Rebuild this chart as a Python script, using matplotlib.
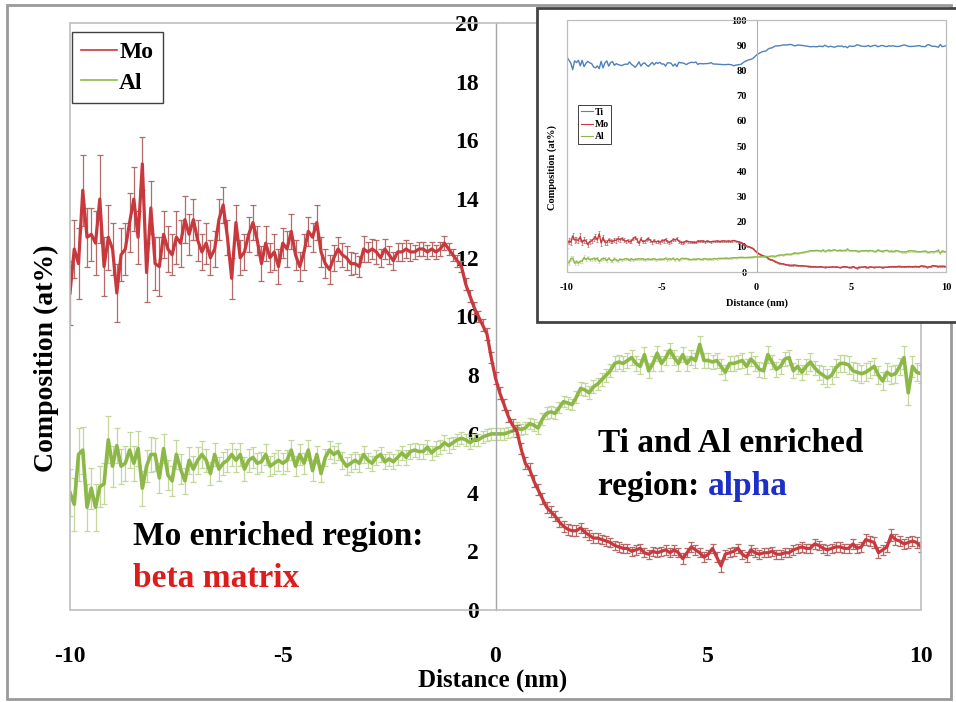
import numpy as np
import matplotlib
matplotlib.use("Agg")
import matplotlib.pyplot as plt
from matplotlib.patches import Rectangle
from matplotlib.lines import Line2D

# ---------------------------------------------------------------- data
# composition profile across the alpha/beta interface, 0.1 nm steps
distance = np.round(np.arange(-10.0, 10.0001, 0.1), 1)

mo = [10.8, 12.3, 11.8, 14.3, 12.7, 12.8, 12.5, 14.0, 11.7, 12.7,
      12.3, 10.8, 12.1, 12.3, 13.2, 14.0, 12.7, 15.2, 11.5, 13.7,
      11.8, 11.7, 12.8, 12.3, 12.1, 12.7, 12.5, 13.3, 12.8, 13.3,
      12.6, 12.2, 12.5, 12.0, 12.3, 13.3, 13.8, 12.7, 11.3, 13.2,
      12.0, 12.2, 12.8, 13.2, 12.6, 11.8, 12.5, 12.0, 12.2, 11.7,
      12.5, 12.3, 12.9, 12.1, 11.7, 12.2, 12.9, 12.7, 13.2, 12.2,
      11.8, 11.6, 12.0, 12.3, 12.1, 12.0, 11.8, 11.8, 11.7, 12.3,
      12.2, 12.3, 12.2, 12.0, 12.3, 12.1, 11.9, 12.2, 12.2, 12.3,
      12.2, 12.2, 12.3, 12.3, 12.2, 12.3, 12.2, 12.3, 12.5, 12.3,
      12.1, 11.9, 11.7, 11.1, 10.7, 10.3, 10.0, 9.7, 9.4, 8.6,
      7.9, 7.4, 7.0, 6.6, 6.3, 6.1, 5.5, 5.0, 4.8, 4.4,
      4.1, 3.8, 3.5, 3.35, 3.2, 3.0, 2.85, 2.75, 2.7, 2.7,
      2.8, 2.65, 2.55, 2.45, 2.45, 2.4, 2.35, 2.3, 2.2, 2.15,
      2.1, 2.1, 2.0, 2.05, 2.1, 1.95, 1.9, 2.0, 1.95, 2.0,
      2.05, 1.95, 2.05, 1.95, 1.75, 1.95, 2.15, 2.05, 1.95, 1.8,
      1.9, 2.1, 1.8, 1.5, 1.9, 1.95, 2.0, 2.1, 1.9, 1.8,
      2.05, 1.95, 1.9, 1.95, 1.95, 2.0, 1.9, 1.9, 1.95, 1.95,
      2.05, 2.1, 2.15, 2.1, 2.1, 2.25, 2.2, 2.1, 2.05, 2.1,
      2.15, 2.15, 2.1, 2.1, 2.25, 2.1, 2.15, 2.4, 2.35, 2.3,
      1.95, 2.05, 2.15, 2.55, 2.4, 2.35, 2.25, 2.3, 2.35, 2.3, 2.15]

al = [4.0, 3.6, 5.3, 5.45, 3.5, 4.15, 3.5, 4.2, 4.3, 5.8,
      4.9, 5.6, 4.9, 5.0, 5.45, 5.0, 5.5, 4.15, 4.9, 5.3,
      5.3, 4.5, 5.5, 4.6, 4.4, 5.3, 4.8, 4.4, 5.1, 4.8,
      5.1, 5.3, 5.1, 4.65, 5.3, 4.8, 5.0, 5.1, 5.3, 5.1,
      5.3, 4.8, 5.1, 5.2, 5.0, 5.05, 5.3, 4.9, 5.0, 5.1,
      5.0, 5.1, 5.45, 4.9, 5.3, 5.0, 5.45, 4.75, 5.3, 4.65,
      5.2, 5.45, 5.3, 5.4, 5.1, 4.9, 5.0, 5.1, 5.0, 5.3,
      5.1, 5.0, 5.2, 5.3, 5.05, 5.15, 5.05, 5.2, 5.35, 5.2,
      5.4, 5.45, 5.4, 5.4, 5.55, 5.35, 5.5, 5.55, 5.7, 5.6,
      5.7, 5.8, 5.85, 5.8, 5.7, 5.8, 5.8, 5.9, 5.95, 6.0,
      6.0, 6.0, 6.0, 6.05, 6.1, 6.2, 6.15, 6.2, 6.35, 6.3,
      6.2, 6.5, 6.7, 6.75, 6.7, 6.9, 7.1, 7.05, 7.0, 7.25,
      7.55, 7.5, 7.4, 7.6, 7.7, 7.85, 8.0, 8.15, 8.4, 8.45,
      8.4, 8.5, 8.6, 8.4, 8.3, 8.7, 8.15, 8.4, 8.75, 8.4,
      8.6, 8.85, 8.6, 8.4, 8.7, 8.4, 8.6, 8.5, 9.05, 8.5,
      8.5, 8.45, 8.5, 8.3, 8.1, 8.4, 8.4, 8.45, 8.5, 8.3,
      8.55, 8.4, 8.2, 8.15, 8.7, 8.45, 8.2, 8.3, 8.55, 8.6,
      8.15, 8.3, 8.1, 8.3, 8.45, 8.25, 8.1, 8.0, 7.9, 8.0,
      8.25, 8.4, 8.4, 8.35, 8.15, 8.1, 8.05, 8.1, 8.2, 8.3,
      8.0, 7.8, 8.1, 8.0, 8.05, 8.3, 8.6, 7.4, 8.3, 8.1, 8.05]

ti = [85.2, 84.1, 82.9, 80.3, 83.8, 83.1, 84.0, 81.8, 84.0, 81.5,
      82.8, 83.6, 83.0, 82.7, 81.4, 81.0, 81.8, 80.7, 83.6, 81.0,
      82.9, 83.8, 81.7, 83.1, 83.5, 82.0, 82.7, 82.3, 82.1, 81.9,
      82.3, 82.5, 82.4, 83.4, 82.4, 81.9, 81.2, 82.2, 83.4, 81.7,
      82.7, 83.0, 82.1, 81.6, 82.4, 83.2, 82.2, 83.1, 82.8, 83.2,
      82.5, 82.6, 81.7, 83.0, 83.0, 82.8, 81.7, 82.6, 81.5, 83.2,
      83.0, 83.0, 82.7, 82.3, 82.8, 83.1, 83.2, 83.1, 83.3, 82.4,
      82.7, 82.7, 82.6, 82.7, 82.7, 82.8, 83.1, 82.6, 82.5, 82.5,
      82.4, 82.4, 82.3, 82.3, 82.3, 82.4, 82.3, 82.2, 81.8, 82.1,
      82.2, 82.3, 82.5, 83.1, 83.6, 83.9, 84.2, 84.4, 84.7, 85.4,
      86.1, 86.6, 87.0, 87.4, 87.6, 87.7, 88.4, 88.8, 88.9, 89.3,
      89.7, 89.7, 89.8, 89.9, 90.1, 90.1, 90.1, 90.2, 90.3, 90.1,
      89.7, 89.9, 90.1, 90.0, 89.9, 89.8, 89.7, 89.6, 89.4, 89.4,
      89.5, 89.4, 89.4, 89.6, 89.6, 89.4, 90.0, 89.6, 89.3, 89.6,
      89.4, 89.2, 89.4, 89.7, 89.6, 89.7, 89.3, 89.5, 89.0, 89.7,
      89.6, 89.5, 89.7, 90.2, 90.0, 89.7, 89.6, 89.5, 89.6, 89.9,
      89.4, 89.7, 89.9, 89.9, 89.4, 89.6, 89.9, 89.8, 89.5, 89.5,
      89.8, 89.6, 89.8, 89.6, 89.5, 89.5, 89.7, 89.9, 90.1, 89.9,
      89.6, 89.5, 89.5, 89.6, 89.6, 89.8, 89.8, 89.5, 89.5, 89.4,
      90.1, 90.2, 89.8, 89.5, 89.6, 89.4, 89.2, 90.3, 89.4, 89.6, 89.8]

mo_err = [1.1, 1.0, 1.2, 1.2, 1.0, 0.9, 1.1, 1.5, 1.0, 1.1,
          0.9, 1.0, 0.9, 0.9, 1.0, 1.1, 0.9, 0.9, 1.0, 0.9,
          0.9, 1.0, 0.8, 0.8, 0.7, 0.9, 0.8, 0.8, 0.7, 0.7,
          0.7, 0.6, 0.7, 0.6, 0.6, 0.7, 0.6, 0.6, 0.7, 0.6,
          0.6, 0.6, 0.6, 0.6, 0.5, 0.6, 0.6, 0.5, 0.6, 0.6,
          0.5, 0.6, 0.6, 0.5, 0.5, 0.6, 0.5, 0.5, 0.6, 0.5,
          0.5, 0.5, 0.45, 0.4, 0.4, 0.4, 0.4, 0.35, 0.35, 0.45,
          0.35, 0.35, 0.4, 0.3, 0.35, 0.3, 0.3, 0.3, 0.3, 0.3,
          0.3, 0.25, 0.25, 0.25, 0.25, 0.25, 0.25, 0.25, 0.25, 0.2,
          0.2, 0.2, 0.2, 0.2, 0.2, 0.2, 0.2, 0.2, 0.2, 0.2,
          0.2, 0.2, 0.2, 0.2, 0.2, 0.2, 0.2, 0.2, 0.2, 0.2,
          0.18, 0.18, 0.18, 0.18, 0.18, 0.18, 0.18, 0.18, 0.18, 0.18,
          0.16, 0.16, 0.16, 0.16, 0.16, 0.16, 0.16, 0.16, 0.16, 0.16,
          0.16, 0.16, 0.16, 0.16, 0.16, 0.16, 0.16, 0.16, 0.16, 0.16,
          0.16, 0.16, 0.16, 0.16, 0.18, 0.16, 0.16, 0.16, 0.16, 0.16,
          0.16, 0.16, 0.16, 0.2, 0.16, 0.16, 0.16, 0.16, 0.16, 0.16,
          0.16, 0.16, 0.16, 0.16, 0.16, 0.16, 0.16, 0.16, 0.16, 0.16,
          0.16, 0.16, 0.16, 0.16, 0.16, 0.16, 0.16, 0.16, 0.16, 0.16,
          0.16, 0.16, 0.16, 0.16, 0.16, 0.16, 0.16, 0.18, 0.18, 0.18,
          0.18, 0.18, 0.18, 0.2, 0.18, 0.18, 0.18, 0.18, 0.18, 0.18, 0.18]

al_err = [0.8, 0.9, 0.9, 0.8, 0.8, 0.7, 0.8, 0.7, 0.7, 0.8,
          0.7, 0.6, 0.6, 0.6, 0.6, 0.6, 0.6, 0.6, 0.55, 0.6,
          0.55, 0.5, 0.5, 0.5, 0.5, 0.5, 0.5, 0.45, 0.45, 0.45,
          0.45, 0.45, 0.4, 0.4, 0.4, 0.4, 0.4, 0.4, 0.4, 0.4,
          0.4, 0.4, 0.4, 0.35, 0.35, 0.35, 0.35, 0.35, 0.35, 0.35,
          0.35, 0.35, 0.35, 0.35, 0.35, 0.35, 0.35, 0.35, 0.3, 0.3,
          0.3, 0.3, 0.3, 0.3, 0.3, 0.3, 0.3, 0.3, 0.3, 0.3,
          0.25, 0.25, 0.25, 0.25, 0.25, 0.25, 0.25, 0.25, 0.25, 0.25,
          0.25, 0.25, 0.25, 0.25, 0.25, 0.25, 0.25, 0.25, 0.25, 0.25,
          0.2, 0.2, 0.2, 0.2, 0.2, 0.2, 0.2, 0.2, 0.2, 0.2,
          0.2, 0.2, 0.2, 0.2, 0.2, 0.2, 0.2, 0.2, 0.2, 0.2,
          0.2, 0.2, 0.2, 0.2, 0.2, 0.2, 0.2, 0.2, 0.2, 0.2,
          0.22, 0.22, 0.22, 0.22, 0.22, 0.22, 0.22, 0.22, 0.25, 0.25,
          0.25, 0.25, 0.25, 0.25, 0.25, 0.25, 0.25, 0.25, 0.25, 0.25,
          0.25, 0.25, 0.25, 0.25, 0.25, 0.25, 0.25, 0.25, 0.3, 0.25,
          0.25, 0.25, 0.25, 0.25, 0.25, 0.25, 0.25, 0.25, 0.25, 0.25,
          0.25, 0.25, 0.25, 0.25, 0.3, 0.25, 0.25, 0.25, 0.25, 0.25,
          0.25, 0.25, 0.25, 0.25, 0.3, 0.25, 0.25, 0.3, 0.3, 0.3,
          0.3, 0.3, 0.3, 0.3, 0.3, 0.3, 0.3, 0.3, 0.3, 0.3,
          0.3, 0.3, 0.3, 0.3, 0.3, 0.3, 0.4, 0.4, 0.35, 0.3, 0.3]

main_yticks = [0, 2, 4, 6, 8, 10, 12, 14, 16, 18, 20]
main_xticks = [-10, -5, 0, 5, 10]
inset_yticks = [0, 10, 20, 30, 40, 50, 60, 70, 80, 90, 100]

# ---------------------------------------------------------------- style
plt.rcParams["font.family"] = ["Liberation Serif", "DejaVu Serif"]
plt.rcParams["font.weight"] = "bold"

MO_C, MO_E = "#c8383c", "#b56a6a"
AL_C, AL_E = "#8cb848", "#c2d89a"
TI_C = "#4f81bd"
FRAME = "#bdbdbd"

W, H = 956, 702
fig = plt.figure(figsize=(W / 100, H / 100), dpi=100)
fig.patch.set_facecolor("white")


def fx(px):
    return px / W


def fy(py):
    return 1 - py / H


# ---------------------------------------------------------------- main panel
ax = fig.add_axes([fx(70), fy(610), fx(921) - fx(70), fy(23) - fy(610)])
ax.set_xlim(-10, 10)
ax.set_ylim(0, 20)

ax.errorbar(distance, mo, yerr=mo_err, color=MO_C, lw=2.3, ecolor=MO_E,
            elinewidth=0.9, capsize=2.3, capthick=0.9, zorder=3)
ax.errorbar(distance, al, yerr=al_err, color=AL_C, lw=2.6, ecolor=AL_E,
            elinewidth=0.9, capsize=2.3, capthick=0.9, zorder=2)

for side in ("top", "right", "bottom"):
    ax.spines[side].set_visible(False)
ax.spines["left"].set_position(("data", 0))
ax.spines["left"].set_color("#a6a6a6")
ax.spines["left"].set_linewidth(1.0)
ax.add_patch(Rectangle((0, 0), 1, 1, transform=ax.transAxes, fill=False,
                       ec=FRAME, lw=1.2, zorder=5, clip_on=False))

ax.set_yticks(main_yticks)
ax.set_xticks(main_xticks)
ax.set_xticklabels([str(v) for v in main_xticks])
ax.tick_params(axis="y", length=0, pad=12, labelsize=17)
ax.tick_params(axis="x", length=0, pad=26, labelsize=17)
ax.set_xlabel("Distance (nm)", fontsize=18, fontweight="bold")
ax.xaxis.set_label_coords(0.497, -0.1)
fig.text(fx(46), fy(358), "Composition (at%)", rotation=90, ha="center",
         va="center", fontsize=20, fontweight="bold")

handles = [Line2D([], [], color=MO_C, lw=1.2), Line2D([], [], color=AL_C, lw=1.2)]
leg = ax.legend(handles, ["Mo", "Al"], loc="upper left",
                bbox_to_anchor=(0.0024, 0.985), borderaxespad=0,
                fontsize=17, handlelength=1.5, handletextpad=0.1,
                borderpad=0.4, labelspacing=0.4,
                fancybox=False, framealpha=1, edgecolor="#404040")
leg.get_frame().set_linewidth(1.0)

ax.text(-8.53, 2.52, "Mo enriched region:", fontsize=24, va="center",
        color="black", fontweight="bold")
ax.text(-8.53, 1.09, "beta matrix", fontsize=24, va="center",
        color="#dd1c1c", fontweight="bold")
ax.text(2.4, 5.68, "Ti and Al enriched", fontsize=24, va="center",
        color="black", fontweight="bold")
ax.text(2.4, 4.22, "region: ", fontsize=24, va="center",
        color="black", fontweight="bold")
ax.text(4.98, 4.22, "alpha", fontsize=24, va="center",
        color="#1c2fc8", fontweight="bold")

# outer border of the figure
fig.patches.append(Rectangle((fx(7), fy(699)), fx(951) - fx(7), fy(5) - fy(699),
                             transform=fig.transFigure, fill=False,
                             ec="#9a9a9a", lw=2.0, zorder=1))

# ---------------------------------------------------------------- inset panel
fig.patches.append(Rectangle((fx(537), fy(322)), fx(960) - fx(537), fy(8) - fy(322),
                             transform=fig.transFigure, fc="white",
                             ec="#444444", lw=2.0, zorder=4))

ins = fig.add_axes([fx(567), fy(272), fx(946) - fx(567), fy(20) - fy(272)])
ins.set_zorder(6)
ins.set_xlim(-10, 10)
ins.set_ylim(0, 100)
ins.plot(distance, ti, color=TI_C, lw=1.0)
ins.errorbar(distance, mo, yerr=mo_err, color=MO_C, lw=1.0, ecolor=MO_E,
             elinewidth=0.5, capsize=0.8, capthick=0.5)
ins.errorbar(distance, al, yerr=al_err, color=AL_C, lw=1.0, ecolor=AL_E,
             elinewidth=0.5, capsize=0.8, capthick=0.5)
for side in ("top", "right", "bottom"):
    ins.spines[side].set_visible(False)
ins.spines["left"].set_position(("data", 0))
ins.spines["left"].set_color("#b0b0b0")
ins.spines["left"].set_linewidth(0.8)
ins.add_patch(Rectangle((0, 0), 1, 1, transform=ins.transAxes, fill=False,
                        ec=FRAME, lw=0.9, zorder=5, clip_on=False))
ins.set_yticks(inset_yticks)
ins.set_xticks(main_xticks)
ins.set_xticklabels([str(v) for v in main_xticks])
ins.tick_params(axis="y", length=0, pad=7, labelsize=7.5)
ins.tick_params(axis="x", length=0, pad=8, labelsize=7.5)
ins.set_xlabel("Distance (nm)", fontsize=7.5, fontweight="bold")
ins.xaxis.set_label_coords(0.5, -0.105)
fig.text(fx(552), fy(167), "Composition (at%)", rotation=90, ha="center",
         va="center", fontsize=7.5, fontweight="bold", zorder=7)

ih = [Line2D([], [], color=TI_C, lw=0.8), Line2D([], [], color=MO_C, lw=0.8),
      Line2D([], [], color=AL_C, lw=0.8)]
ileg = ins.legend(ih, ["Ti", "Mo", "Al"], loc="upper left",
                  bbox_to_anchor=(0.016, 0.683), fontsize=7, handlelength=1.3,
                  handletextpad=0.1, borderpad=0.3, labelspacing=0.35,
                  fancybox=False, framealpha=1, edgecolor="#404040")
ileg.get_frame().set_linewidth(0.7)

fig.savefig("out.png", dpi=100)
